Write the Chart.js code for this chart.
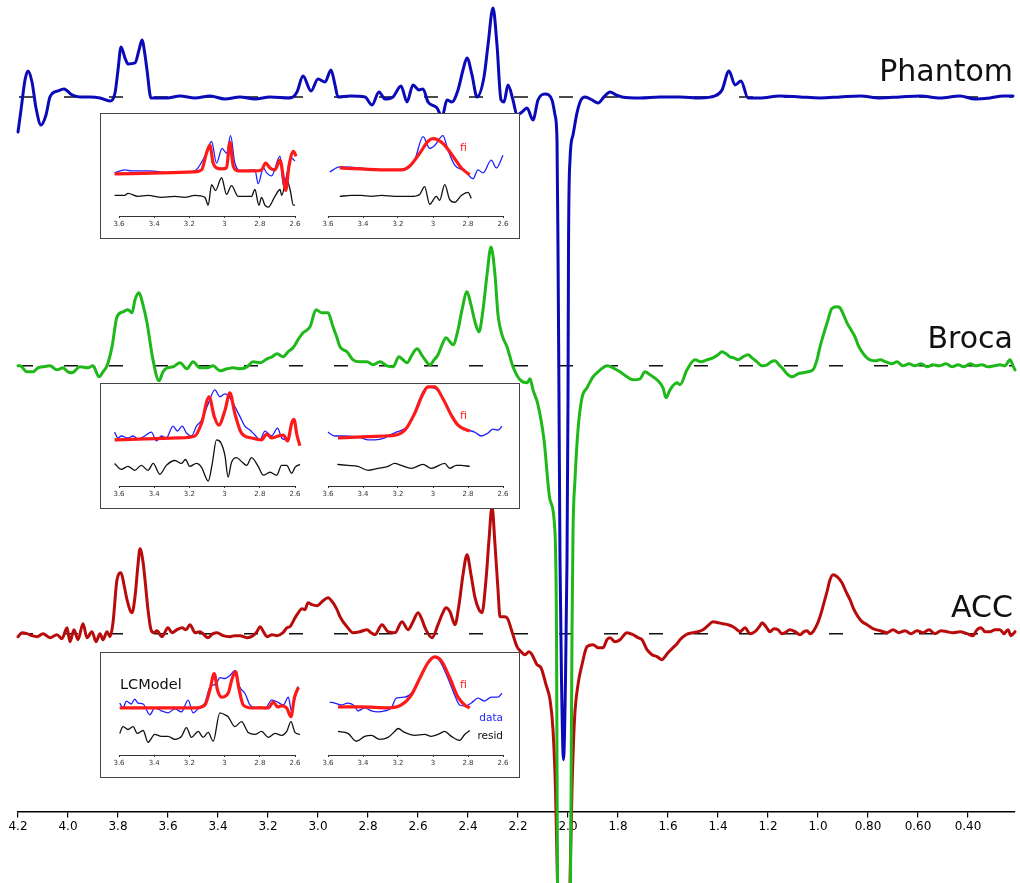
<!DOCTYPE html>
<html>
<head>
<meta charset="utf-8">
<script src="https://cdn.jsdelivr.net/npm/chart.js@4.4.1/dist/chart.umd.min.js"></script>
<style>
  body { margin: 0; background: #fff; }
  #wrap { position: relative; width: 1020px; height: 883px; overflow: hidden; }
  #wrap canvas { position: absolute; }
  .box { position: absolute; left: 100px; width: 420px; height: 126px; box-sizing: border-box; border: 1.5px solid #444; background: #fff; }
  .lbl { position: absolute; font-family: "DejaVu Sans", sans-serif; white-space: nowrap; transform: translateY(-50%); line-height: 1; }
  .rt { transform: translate(-100%, -50%); }
</style>
</head>
<body>
<div id="wrap">
  <canvas id="main" width="1020" height="883" style="left:0;top:0"></canvas>

  <div class="box" style="top:113px"></div>
  <canvas id="i1L" width="200" height="120" style="left:104px;top:115px"></canvas>
  <canvas id="i1R" width="200" height="120" style="left:312px;top:115px"></canvas>
  <span class="lbl" style="left:460px;top:147px;font-size:11px;color:#ff2020">fi</span>

  <div class="box" style="top:383px"></div>
  <canvas id="i2L" width="200" height="120" style="left:104px;top:385px"></canvas>
  <canvas id="i2R" width="200" height="120" style="left:312px;top:385px"></canvas>
  <span class="lbl" style="left:460px;top:415px;font-size:11px;color:#ff2020">fi</span>

  <div class="box" style="top:652px"></div>
  <canvas id="i3L" width="200" height="120" style="left:104px;top:654px"></canvas>
  <canvas id="i3R" width="200" height="120" style="left:312px;top:654px"></canvas>
  <span class="lbl" style="left:460px;top:684px;font-size:11px;color:#ff2020">fi</span>
  <span class="lbl rt" style="left:503px;top:717px;font-size:10.5px;color:#2424ff">data</span>
  <span class="lbl rt" style="left:503px;top:735px;font-size:10.5px;color:#111">resid</span>
  <span class="lbl" style="left:120px;top:684px;font-size:14.5px;color:#111">LCModel</span>
</div>
<script>
// main spectra: [ppm, amplitude above own baseline]
const phantomPts = [[4.200,-35],[4.188,-13],[4.172,17],[4.160,26],[4.144,15],[4.128,-11],[4.108,-28],[4.088,-18],[4.072,0],[4.040,6],[4.016,8],[3.984,2],[3.952,0],[3.912,0],[3.872,-1],[3.832,-4],[3.812,4],[3.800,27],[3.788,50],[3.772,39],[3.760,33],[3.732,34],[3.716,47],[3.704,57],[3.692,42],[3.684,27],[3.668,-1],[3.604,-1],[3.552,1],[3.492,-1],[3.432,1],[3.372,-2],[3.312,0],[3.252,-2],[3.192,0],[3.112,-1],[3.084,5],[3.060,21],[3.028,6],[3.000,18],[2.972,15],[2.948,27],[2.932,12],[2.920,0],[2.872,1],[2.812,0],[2.784,-8],[2.756,5],[2.732,-2],[2.700,0],[2.668,11],[2.644,-5],[2.620,12],[2.596,7],[2.580,8],[2.560,-5],[2.524,-11],[2.504,-20],[2.484,-3],[2.464,-5],[2.440,7],[2.420,27],[2.404,39],[2.384,22],[2.364,0],[2.336,20],[2.320,52],[2.300,89],[2.284,52],[2.268,-3],[2.256,-5],[2.240,12],[2.220,-3],[2.204,-18],[2.184,-15],[2.164,-11],[2.140,-23],[2.120,-3],[2.092,3],[2.064,-3],[2.052,-18],[2.044,-43],[2.040,-153],[2.036,-303],[2.032,-463],[2.026,-583],[2.018,-663],[2.010,-583],[2.004,-463],[2.000,-303],[1.998,-153],[1.992,-63],[1.980,-38],[1.964,-16],[1.948,-3],[1.932,0],[1.904,-3],[1.880,-6],[1.856,0],[1.832,5],[1.808,2],[1.784,0],[1.712,-1],[1.632,0],[1.552,0],[1.472,-1],[1.412,1],[1.384,7],[1.356,26],[1.332,12],[1.308,16],[1.280,-1],[1.232,-1],[1.152,1],[1.072,0],[0.992,-1],[0.912,0],[0.832,1],[0.752,-1],[0.672,0],[0.592,1],[0.512,-1],[0.432,1],[0.372,-2],[0.312,-1],[0.260,1],[0.220,1]];
const brocaPts = [[4.200,0],[4.192,0],[4.164,-6],[4.140,-6],[4.120,-2],[4.100,-1],[4.072,0],[4.044,-4],[4.020,-2],[4.000,-6],[3.984,-7],[3.952,-1],[3.920,-2],[3.900,0],[3.876,-11],[3.860,-6],[3.844,0],[3.824,19],[3.804,49],[3.780,54],[3.760,56],[3.744,53],[3.732,66],[3.716,73],[3.700,61],[3.684,43],[3.660,6],[3.636,-15],[3.620,-6],[3.604,-2],[3.580,-1],[3.552,3],[3.524,-3],[3.500,4],[3.472,-2],[3.444,-2],[3.420,0],[3.392,-5],[3.364,-3],[3.340,-2],[3.312,-3],[3.284,-1],[3.260,4],[3.232,3],[3.204,7],[3.184,9],[3.164,12],[3.140,9],[3.120,14],[3.100,18],[3.080,26],[3.060,33],[3.032,39],[3.008,56],[2.984,53],[2.960,53],[2.940,39],[2.924,28],[2.912,19],[2.884,14],[2.860,6],[2.832,4],[2.804,4],[2.780,1],[2.752,4],[2.724,0],[2.700,-1],[2.676,9],[2.660,6],[2.644,3],[2.624,11],[2.604,17],[2.580,9],[2.552,1],[2.536,6],[2.520,11],[2.504,21],[2.488,28],[2.472,24],[2.460,21],[2.440,36],[2.424,56],[2.404,74],[2.388,61],[2.372,44],[2.356,34],[2.340,56],[2.324,91],[2.308,119],[2.292,91],[2.280,51],[2.264,31],[2.244,19],[2.220,-1],[2.192,-14],[2.164,-17],[2.152,-13],[2.140,-24],[2.120,-39],[2.096,-74],[2.072,-134],[2.052,-167],[2.046,-267],[2.042,-517],[2.016,-784],[1.990,-517],[1.984,-267],[1.980,-167],[1.972,-114],[1.960,-64],[1.944,-32],[1.924,-22],[1.900,-11],[1.880,-6],[1.860,-2],[1.844,0],[1.820,-2],[1.792,-6],[1.764,-11],[1.740,-14],[1.712,-13],[1.692,-6],[1.672,-9],[1.644,-14],[1.620,-22],[1.608,-32],[1.592,-24],[1.564,-17],[1.552,-19],[1.524,-4],[1.492,6],[1.468,4],[1.444,6],[1.420,8],[1.400,11],[1.384,14],[1.368,12],[1.352,9],[1.336,8],[1.320,6],[1.300,9],[1.280,11],[1.264,8],[1.244,4],[1.224,0],[1.204,1],[1.188,4],[1.172,5],[1.156,1],[1.144,-2],[1.124,-8],[1.104,-11],[1.080,-8],[1.060,-7],[1.040,-6],[1.020,-4],[1.004,6],[0.992,19],[0.976,33],[0.960,46],[0.948,56],[0.940,58],[0.924,59],[0.912,58],[0.896,50],[0.884,43],[0.868,36],[0.852,29],[0.840,21],[0.824,14],[0.808,9],[0.792,6],[0.772,5],[0.752,6],[0.728,4],[0.704,2],[0.684,4],[0.660,0],[0.636,2],[0.612,0],[0.588,2],[0.564,-1],[0.540,1],[0.516,0],[0.488,2],[0.464,-1],[0.440,1],[0.416,-1],[0.392,2],[0.368,0],[0.344,1],[0.320,-1],[0.296,0],[0.272,1],[0.252,0],[0.232,6],[0.220,0],[0.212,-4]];
const accPts = [[4.200,-3],[4.184,1],[4.164,0],[4.144,-2],[4.124,-3],[4.100,0],[4.072,-4],[4.044,-1],[4.024,-5],[4.004,6],[3.992,-8],[3.976,4],[3.960,-6],[3.940,10],[3.924,-4],[3.904,2],[3.888,-8],[3.872,0],[3.860,-6],[3.844,2],[3.832,-3],[3.820,11],[3.804,54],[3.788,61],[3.776,49],[3.764,34],[3.744,21],[3.732,37],[3.720,69],[3.712,85],[3.700,72],[3.692,54],[3.680,24],[3.668,4],[3.656,1],[3.644,3],[3.624,-3],[3.600,6],[3.584,1],[3.564,4],[3.544,6],[3.528,4],[3.512,9],[3.492,1],[3.472,2],[3.440,-4],[3.420,0],[3.404,1],[3.380,-2],[3.352,-3],[3.332,-2],[3.312,-2],[3.284,-4],[3.260,-2],[3.244,2],[3.232,7],[3.216,1],[3.204,-3],[3.184,-1],[3.164,-2],[3.140,1],[3.124,6],[3.112,7],[3.096,14],[3.084,19],[3.064,25],[3.052,24],[3.040,31],[3.024,29],[3.004,28],[2.984,32],[2.960,36],[2.940,31],[2.924,24],[2.912,17],[2.900,12],[2.884,7],[2.860,1],[2.832,2],[2.804,4],[2.788,1],[2.772,-1],[2.744,9],[2.720,2],[2.692,1],[2.664,12],[2.640,4],[2.620,12],[2.600,21],[2.584,14],[2.572,6],[2.544,-4],[2.520,9],[2.504,19],[2.488,26],[2.472,22],[2.452,9],[2.436,29],[2.420,59],[2.404,79],[2.388,59],[2.372,36],[2.356,24],[2.344,21],[2.328,54],[2.316,94],[2.304,127],[2.292,89],[2.280,44],[2.272,17],[2.256,17],[2.244,16],[2.224,2],[2.204,-13],[2.188,-18],[2.172,-21],[2.156,-18],[2.144,-21],[2.124,-31],[2.108,-34],[2.088,-51],[2.072,-66],[2.060,-96],[2.050,-156],[2.042,-249],[2.016,-516],[1.992,-249],[1.984,-156],[1.974,-86],[1.960,-51],[1.944,-31],[1.924,-13],[1.900,-11],[1.880,-14],[1.860,-14],[1.844,-6],[1.832,-4],[1.812,-8],[1.792,-6],[1.764,1],[1.740,-1],[1.720,-4],[1.704,-6],[1.684,-16],[1.664,-21],[1.644,-23],[1.624,-26],[1.612,-23],[1.600,-19],[1.580,-14],[1.564,-10],[1.552,-6],[1.528,-1],[1.500,1],[1.480,2],[1.460,4],[1.440,8],[1.420,12],[1.400,11],[1.380,10],[1.360,9],[1.340,7],[1.324,4],[1.312,2],[1.292,6],[1.272,0],[1.252,2],[1.232,8],[1.224,11],[1.208,7],[1.192,2],[1.176,5],[1.160,4],[1.144,0],[1.132,1],[1.112,4],[1.092,2],[1.072,-1],[1.056,2],[1.044,3],[1.032,0],[1.020,2],[1.004,9],[0.992,17],[0.976,31],[0.964,42],[0.952,54],[0.940,59],[0.924,57],[0.904,51],[0.888,42],[0.872,34],[0.856,24],[0.840,17],[0.824,12],[0.804,9],[0.780,5],[0.752,3],[0.724,1],[0.700,4],[0.676,1],[0.652,3],[0.628,0],[0.604,3],[0.580,1],[0.556,4],[0.532,0],[0.508,3],[0.484,2],[0.460,1],[0.432,2],[0.404,0],[0.380,-2],[0.364,4],[0.348,6],[0.332,2],[0.312,2],[0.292,4],[0.272,4],[0.256,0],[0.240,4],[0.228,-2],[0.212,2]];

const mainTicks = [4.2, 4.0, 3.8, 3.6, 3.4, 3.2, 3.0, 2.8, 2.6, 2.4, 2.2, 2.0, 1.8, 1.6, 1.4, 1.2, 1.0, 0.8, 0.6, 0.4];
const traceNames = ['Phantom', 'Broca', 'ACC'];

// inset panels: [ppm, height above panel axis]
const i1FitL = [[3.625,43],[3.169,45],[3.131,47],[3.103,64],[3.084,72],[3.065,54],[3.046,49],[3.017,48],[2.989,49],[2.970,75],[2.951,51],[2.923,46],[2.828,46],[2.790,47],[2.767,54],[2.742,49],[2.714,47],[2.685,57],[2.666,39],[2.653,26],[2.634,51],[2.609,66],[2.594,61]];
const i1DataL = [[3.625,44],[3.568,47],[3.530,46],[3.435,46],[3.302,44],[3.207,45],[3.169,46],[3.112,61],[3.074,76],[3.046,54],[3.014,69],[2.989,64],[2.966,82],[2.942,54],[2.904,46],[2.828,47],[2.809,33],[2.780,49],[2.761,44],[2.733,41],[2.685,61],[2.666,31],[2.647,42],[2.634,54],[2.619,59],[2.600,56]];
const i1ResidL = [[3.625,21],[3.568,21],[3.549,23],[3.492,20],[3.435,21],[3.359,19],[3.283,20],[3.226,19],[3.169,21],[3.112,19],[3.093,11],[3.074,32],[3.052,26],[3.017,39],[2.989,22],[2.961,31],[2.923,20],[2.847,20],[2.828,27],[2.805,11],[2.790,19],[2.771,11],[2.752,9],[2.714,20],[2.685,27],[2.676,21],[2.647,37],[2.628,27],[2.609,11],[2.600,11]];
const i1FitR = [[3.533,49],[3.410,48],[3.257,47],[3.181,47],[3.133,51],[3.076,64],[3.029,76],[3.000,79],[2.943,74],[2.886,61],[2.838,49],[2.790,42]];
const i1DataR = [[3.590,45],[3.533,50],[3.257,47],[3.162,48],[3.105,57],[3.057,81],[3.019,69],[2.990,72],[2.943,82],[2.914,67],[2.876,52],[2.819,46],[2.771,38],[2.743,47],[2.714,44],[2.667,57],[2.638,49],[2.600,62]];
const i1ResidR = [[3.533,20],[3.467,21],[3.410,21],[3.352,20],[3.295,21],[3.219,20],[3.124,20],[3.076,22],[3.048,30],[3.019,12],[2.981,20],[2.962,16],[2.933,32],[2.905,17],[2.876,14],[2.838,21],[2.800,24],[2.781,18]];

const i2FitL = [[3.625,47],[3.454,48],[3.264,49],[3.169,51],[3.131,64],[3.088,91],[3.059,71],[3.033,62],[2.998,77],[2.970,95],[2.942,74],[2.904,54],[2.847,49],[2.790,47],[2.761,53],[2.733,49],[2.695,51],[2.666,52],[2.642,46],[2.619,64],[2.606,68],[2.589,52],[2.572,41]];
const i2DataL = [[3.625,55],[3.606,49],[3.587,51],[3.549,49],[3.520,51],[3.492,48],[3.454,51],[3.416,55],[3.387,46],[3.359,51],[3.331,49],[3.293,61],[3.268,56],[3.241,61],[3.217,54],[3.188,51],[3.160,61],[3.131,67],[3.093,84],[3.055,98],[3.027,91],[2.998,94],[2.970,90],[2.942,81],[2.913,71],[2.885,61],[2.856,57],[2.828,52],[2.799,47],[2.771,56],[2.733,51],[2.699,59],[2.676,49],[2.647,47]];
const i2ResidL = [[3.625,23],[3.587,17],[3.549,20],[3.511,16],[3.473,21],[3.435,16],[3.406,23],[3.368,12],[3.331,21],[3.283,26],[3.245,23],[3.222,27],[3.198,20],[3.160,23],[3.131,19],[3.093,5],[3.071,22],[3.046,47],[3.021,44],[2.998,31],[2.980,9],[2.961,24],[2.932,29],[2.904,25],[2.875,21],[2.847,29],[2.809,20],[2.780,11],[2.742,14],[2.704,11],[2.676,21],[2.647,21],[2.619,13],[2.600,19],[2.572,22]];
const i2FitR = [[3.543,49],[3.410,50],[3.276,51],[3.210,52],[3.152,59],[3.105,74],[3.057,94],[3.029,101],[2.990,101],[2.943,89],[2.895,72],[2.857,62],[2.819,58],[2.790,56]];
const i2DataR = [[3.600,55],[3.562,51],[3.505,51],[3.410,49],[3.371,47],[3.333,47],[3.276,49],[3.257,51],[3.210,55],[3.143,61],[3.029,101],[2.971,97],[2.857,62],[2.800,57],[2.762,55],[2.724,51],[2.686,54],[2.657,58],[2.629,57],[2.606,61]];
const i2ResidR = [[3.547,22],[3.486,21],[3.429,20],[3.371,16],[3.314,18],[3.257,20],[3.219,23],[3.181,21],[3.124,18],[3.057,22],[3.010,18],[2.933,23],[2.905,18],[2.867,21],[2.838,21],[2.790,20]];

const i3FitL = [[3.596,48],[3.359,48],[3.169,48],[3.112,51],[3.084,66],[3.059,83],[3.040,66],[3.017,59],[2.980,63],[2.957,78],[2.938,85],[2.919,68],[2.894,51],[2.847,48],[2.790,48],[2.752,48],[2.723,54],[2.699,49],[2.676,50],[2.647,48],[2.623,39],[2.604,58],[2.581,69]];
const i3DataL = [[3.596,53],[3.577,48],[3.558,55],[3.530,52],[3.511,57],[3.492,53],[3.463,52],[3.425,41],[3.397,48],[3.359,45],[3.321,43],[3.283,47],[3.245,44],[3.207,56],[3.179,43],[3.141,49],[3.112,53],[3.084,69],[3.046,73],[3.027,79],[2.998,78],[2.970,81],[2.942,86],[2.913,69],[2.885,63],[2.856,51],[2.828,48],[2.799,49],[2.771,47],[2.733,56],[2.699,54],[2.666,51],[2.638,59],[2.619,44],[2.600,58],[2.581,70]];
const i3ResidL = [[3.596,22],[3.577,29],[3.549,26],[3.520,29],[3.496,22],[3.463,25],[3.435,13],[3.397,21],[3.359,19],[3.321,19],[3.283,16],[3.245,19],[3.217,28],[3.188,18],[3.150,24],[3.122,18],[3.093,23],[3.065,14],[3.027,43],[2.998,41],[2.980,39],[2.942,29],[2.904,34],[2.866,23],[2.828,21],[2.790,24],[2.752,18],[2.714,22],[2.676,20],[2.647,24],[2.623,34],[2.600,23],[2.572,21]];
const i3FitR = [[3.543,49],[3.410,49],[3.257,48],[3.181,51],[3.124,61],[3.076,78],[3.029,94],[2.990,100],[2.952,96],[2.905,79],[2.857,59],[2.819,51],[2.790,48]];
const i3DataR = [[3.590,54],[3.562,53],[3.524,51],[3.486,53],[3.448,50],[3.429,45],[3.390,48],[3.352,45],[3.314,44],[3.276,45],[3.238,48],[3.210,58],[3.162,59],[3.124,63],[3.048,89],[3.000,100],[2.962,96],[2.914,78],[2.876,61],[2.848,51],[2.819,50],[2.781,53],[2.743,58],[2.705,55],[2.667,59],[2.629,59],[2.606,63]];
const i3ResidR = [[3.543,24],[3.486,22],[3.438,14],[3.390,19],[3.352,20],[3.305,16],[3.257,18],[3.219,24],[3.200,27],[3.162,23],[3.105,20],[3.048,21],[3.010,19],[2.971,21],[2.933,24],[2.895,19],[2.848,15],[2.819,21],[2.790,25]];
const insetTicks = [3.6, 3.4, 3.2, 3.0, 2.8, 2.6];

// layout / style
const baseOffset = { Phantom: 715, Broca: 446, ACC: 178 };
const traceColor = { Phantom: '#0a0ab8', Broca: '#1fb81a', ACC: '#b80c0c' };
const labelBaseY = { Phantom: 81, Broca: 348, ACC: 617 };
const FONT = '"DejaVu Sans", sans-serif';

const toXY = (pts, off) => pts.map(([x, y]) => ({ x: x, y: y + off }));

const tracePts = { Phantom: phantomPts, Broca: brocaPts, ACC: accPts };
const datasets = [];
traceNames.forEach(name => {
  datasets.push({
    data: toXY(tracePts[name], baseOffset[name]),
    borderColor: traceColor[name], borderWidth: 3, clip: false, order: 0,
    cubicInterpolationMode: 'monotone',
    borderJoinStyle: 'round', borderCapStyle: 'round'
  });
});
traceNames.forEach(name => {
  datasets.push({
    data: [{ x: 4.196, y: baseOffset[name] }, { x: 0.22, y: baseOffset[name] }],
    borderColor: '#111', borderWidth: 1.5, borderDash: [14, 31], order: 1
  });
});

const traceLabels = {
  id: 'traceLabels',
  afterDatasetsDraw(chart) {
    const ctx = chart.ctx;
    ctx.save();
    ctx.font = '30px ' + FONT;
    ctx.fillStyle = '#111';
    ctx.textAlign = 'right';
    ctx.textBaseline = 'alphabetic';
    traceNames.forEach(n => ctx.fillText(n, 1013, labelBaseY[n]));
    ctx.restore();
  }
};

new Chart(document.getElementById('main'), {
  type: 'line',
  data: { datasets: datasets },
  options: {
    responsive: false,
    animation: false,
    layout: { padding: { left: 18, right: 5, top: 0, bottom: 47 } },
    plugins: { legend: { display: false }, tooltip: { enabled: false } },
    elements: { point: { radius: 0 }, line: { tension: 0 } },
    scales: {
      x: {
        type: 'linear', reverse: true, min: 0.212, max: 4.2,
        afterBuildTicks: s => { s.ticks = mainTicks.map(v => ({ value: v })); },
        ticks: {
          autoSkip: false, maxRotation: 0, padding: 2, color: '#000',
          font: { family: FONT, size: 12 },
          callback: v => v >= 1 ? v.toFixed(1) : v.toFixed(2)
        },
        grid: { drawOnChartArea: false, tickLength: 6, color: '#000', lineWidth: 1.2 },
        border: { color: '#000', width: 1.5 }
      },
      y: { display: false, min: 0, max: 812 }
    }
  },
  plugins: [traceLabels]
});

function insetPanel(id, fit, data, resid, padL) {
  new Chart(document.getElementById(id), {
    type: 'line',
    data: {
      datasets: [
        { data: toXY(fit, 0), borderColor: '#ff1a1a', borderWidth: 3.2, clip: false, order: 0 },
        { data: toXY(data, 0), borderColor: '#1f1fff', borderWidth: 1.3, clip: false, order: 1 },
        { data: toXY(resid, 0), borderColor: '#111', borderWidth: 1.3, clip: false, order: 2 }
      ]
    },
    options: {
      responsive: false,
      animation: false,
      layout: { padding: { left: padL, right: 9, top: 0, bottom: 4.6 } },
      plugins: { legend: { display: false }, tooltip: { enabled: false } },
      elements: { point: { radius: 0 }, line: { tension: 0, cubicInterpolationMode: 'monotone' } },
      scales: {
        x: {
          type: 'linear', reverse: true, min: 2.6, max: 3.6,
          afterBuildTicks: s => { s.ticks = insetTicks.map(v => ({ value: v })); },
          ticks: {
            autoSkip: false, maxRotation: 0, padding: 2, color: '#333',
            font: { family: FONT, size: 7 },
            callback: v => String(Math.round(v * 10) / 10)
          },
          grid: { drawOnChartArea: false, tickLength: 2, color: '#333', lineWidth: 1 },
          border: { color: '#333', width: 1 }
        },
        y: { display: false, min: 0, max: 103 }
      }
    }
  });
}

insetPanel('i1L', i1FitL, i1DataL, i1ResidL, 15);
insetPanel('i1R', i1FitR, i1DataR, i1ResidR, 16);
insetPanel('i2L', i2FitL, i2DataL, i2ResidL, 15);
insetPanel('i2R', i2FitR, i2DataR, i2ResidR, 16);
insetPanel('i3L', i3FitL, i3DataL, i3ResidL, 15);
insetPanel('i3R', i3FitR, i3DataR, i3ResidR, 16);
</script>
</body>
</html>
